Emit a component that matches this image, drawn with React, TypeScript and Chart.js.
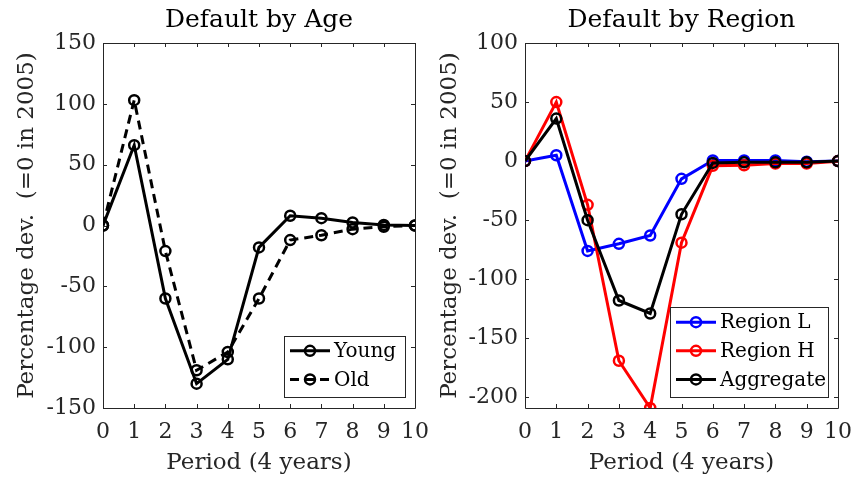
import React, { useEffect, useRef } from "react";
import { Chart, registerables } from "chart.js";
Chart.register(...registerables);

const periods = [0, 1, 2, 3, 4, 5, 6, 7, 8, 9, 10];
const young = [0, 66, -60, -130, -110, -18, 8, 6, 2.5, 0.5, 0];
const old = [0, 103, -21, -119, -104, -60, -12, -8, -3, -1, 0];
const regionL = [0, 5, -76, -70, -63, -15, 0.5, 0.5, 0.5, -0.5, 0];
const regionH = [0, 50, -37, -169, -209, -69, -4, -3.5, -2, -2, 0];
const aggregate = [0, 36, -50, -118, -129, -45, -1.5, -1, -1, -1, 0];

const FONT = "'DejaVu Serif', serif";
const TXT = "#262626";

const boxPlugin = {
  id: "matlabBox",
  beforeDatasetsDraw(chart: any) {
    const { ctx, chartArea, scales } = chart;
    const { left, right, top, bottom } = chartArea;
    const x = scales.x;
    const y = scales.y;
    ctx.save();
    ctx.strokeStyle = TXT;
    ctx.lineWidth = 1;
    ctx.beginPath();
    ctx.rect(Math.round(left) + 0.5, Math.round(top) + 0.5, Math.round(right - left), Math.round(bottom - top));
    ctx.stroke();
    const tl = 4;
    ctx.beginPath();
    x.ticks.forEach((t: any) => {
      const px = Math.round(x.getPixelForValue(t.value)) + 0.5;
      ctx.moveTo(px, bottom);
      ctx.lineTo(px, bottom - tl);
      ctx.moveTo(px, top);
      ctx.lineTo(px, top + tl);
    });
    y.ticks.forEach((t: any) => {
      const py = Math.round(y.getPixelForValue(t.value)) + 0.5;
      ctx.moveTo(left, py);
      ctx.lineTo(left + tl, py);
      ctx.moveTo(right, py);
      ctx.lineTo(right - tl, py);
    });
    ctx.stroke();
    ctx.restore();
  },
};

const legendPlugin = {
  id: "insetLegend",
  afterDatasetsDraw(chart: any, _args: any, opts: any) {
    const { ctx, chartArea } = chart;
    const rowH = 28.6;
    const ds = chart.data.datasets;
    const w = opts.width;
    const h = ds.length * rowH + 4;
    const bx = chartArea.right - opts.insetRight - w;
    const by = chartArea.bottom - opts.insetBottom - h;
    ctx.save();
    ctx.fillStyle = "#ffffff";
    ctx.fillRect(bx, by, w, h);
    ctx.strokeStyle = TXT;
    ctx.lineWidth = 1;
    ctx.strokeRect(Math.round(bx) + 0.5, Math.round(by) + 0.5, Math.round(w), Math.round(h));
    ds.forEach((d: any, i: number) => {
      const cy = by + 15 + i * rowH;
      ctx.strokeStyle = d.borderColor;
      ctx.lineWidth = 3;
      ctx.setLineDash(d.borderDash || []);
      ctx.beginPath();
      ctx.moveTo(bx + 6, cy);
      ctx.lineTo(bx + 46, cy);
      ctx.stroke();
      ctx.setLineDash([]);
      ctx.lineWidth = 2.5;
      ctx.beginPath();
      ctx.arc(bx + 26, cy, 5, 0, Math.PI * 2);
      ctx.stroke();
      ctx.fillStyle = "#000";
      ctx.font = `20px ${FONT}`;
      ctx.textBaseline = "middle";
      ctx.textAlign = "left";
      ctx.fillText(d.label, bx + 50, cy + 1);
    });
    ctx.restore();
  },
};

function makeDs(label: string, data: number[], color: string, order: number, dash?: number[]) {
  return {
    label,
    data,
    borderColor: color,
    backgroundColor: "rgba(0,0,0,0)",
    pointBackgroundColor: "rgba(0,0,0,0)",
    pointBorderColor: color,
    borderWidth: 3,
    pointRadius: 5,
    pointBorderWidth: 2.5,
    borderDash: dash,
    tension: 0,
    order,
  };
}

function buildOptions(cfg: {
  title: string;
  yMin: number;
  yMax: number;
  yWidth: number;
  yTitlePad: number;
  padRight: number;
  legendWidth: number;
}) {
  return {
    responsive: false,
    animation: false,
    devicePixelRatio: 1,
    layout: { padding: { left: 0, right: cfg.padRight, top: 0, bottom: 0 } },
    plugins: {
      legend: { display: false },
      tooltip: { enabled: false },
      title: {
        display: true,
        text: cfg.title,
        fullSize: false,
        color: "#000",
        font: { family: FONT, size: 25, weight: "normal" },
        padding: { top: 5, bottom: 8 },
      },
      insetLegend: { width: cfg.legendWidth, insetRight: 10, insetBottom: 11 },
    },
    scales: {
      x: {
        type: "linear",
        min: 0,
        max: 10,
        afterFit: (s: any) => {
          s.height = 72;
          s.paddingRight = 0;
          s.paddingLeft = 0;
        },
        grid: { display: false, drawTicks: false },
        border: { display: false },
        ticks: {
          stepSize: 1,
          autoSkip: false,
          color: TXT,
          padding: 11,
          maxRotation: 0,
          font: { family: FONT, size: 22 },
        },
        title: {
          display: true,
          text: "Period (4 years)",
          color: TXT,
          font: { family: FONT, size: 23 },
          padding: { top: 0, bottom: 3 },
        },
      },
      y: {
        type: "linear",
        min: cfg.yMin,
        max: cfg.yMax,
        afterFit: (s: any) => {
          s.width = cfg.yWidth;
        },
        grid: { display: false, drawTicks: false },
        border: { display: false },
        ticks: {
          stepSize: 50,
          includeBounds: false,
          color: TXT,
          padding: 7,
          font: { family: FONT, size: 22 },
        },
        title: {
          display: true,
          text: "Percentage dev.  (=0 in 2005)",
          color: TXT,
          font: { family: FONT, size: 23 },
          padding: { top: cfg.yTitlePad, bottom: 0 },
        },
      },
    },
  };
}

function ChartCanvas(props: { width: number; height: number; left: number; config: any }) {
  const ref = useRef<HTMLCanvasElement>(null);
  useEffect(() => {
    if (!ref.current) return;
    const chart = new Chart(ref.current, props.config);
    return () => chart.destroy();
  }, []);
  return (
    <canvas
      ref={ref}
      width={props.width}
      height={props.height}
      style={{ position: "absolute", left: props.left, top: 0, width: props.width, height: props.height }}
    />
  );
}

export default function App() {
  const leftConfig = {
    type: "line",
    data: {
      labels: periods,
      datasets: [
        makeDs("Young", young, "#000000", 0),
        makeDs("Old", old, "#000000", 1, [9, 6]),
      ],
    },
    options: buildOptions({
      title: "Default by Age",
      yMin: -150,
      yMax: 150,
      yWidth: 103,
      yTitlePad: 13.5,
      padRight: 15,
      legendWidth: 121,
    }),
    plugins: [boxPlugin, legendPlugin],
  };
  const rightConfig = {
    type: "line",
    data: {
      labels: periods,
      datasets: [
        makeDs("Region L", regionL, "#0000ff", 2),
        makeDs("Region H", regionH, "#ff0000", 1),
        makeDs("Aggregate", aggregate, "#000000", 0),
      ],
    },
    options: buildOptions({
      title: "Default by Region",
      yMin: -209,
      yMax: 100,
      yWidth: 95,
      yTitlePad: 6,
      padRight: 14,
      legendWidth: 158,
    }),
    plugins: [boxPlugin, legendPlugin],
  };
  return (
    <div
      style={{
        position: "fixed",
        left: 0,
        top: 0,
        width: 852,
        height: 480,
        background: "#fff",
        overflow: "hidden",
      }}
    >
      <ChartCanvas width={430} height={480} left={0} config={leftConfig} />
      <ChartCanvas width={422} height={480} left={430} config={rightConfig} />
    </div>
  );
}
